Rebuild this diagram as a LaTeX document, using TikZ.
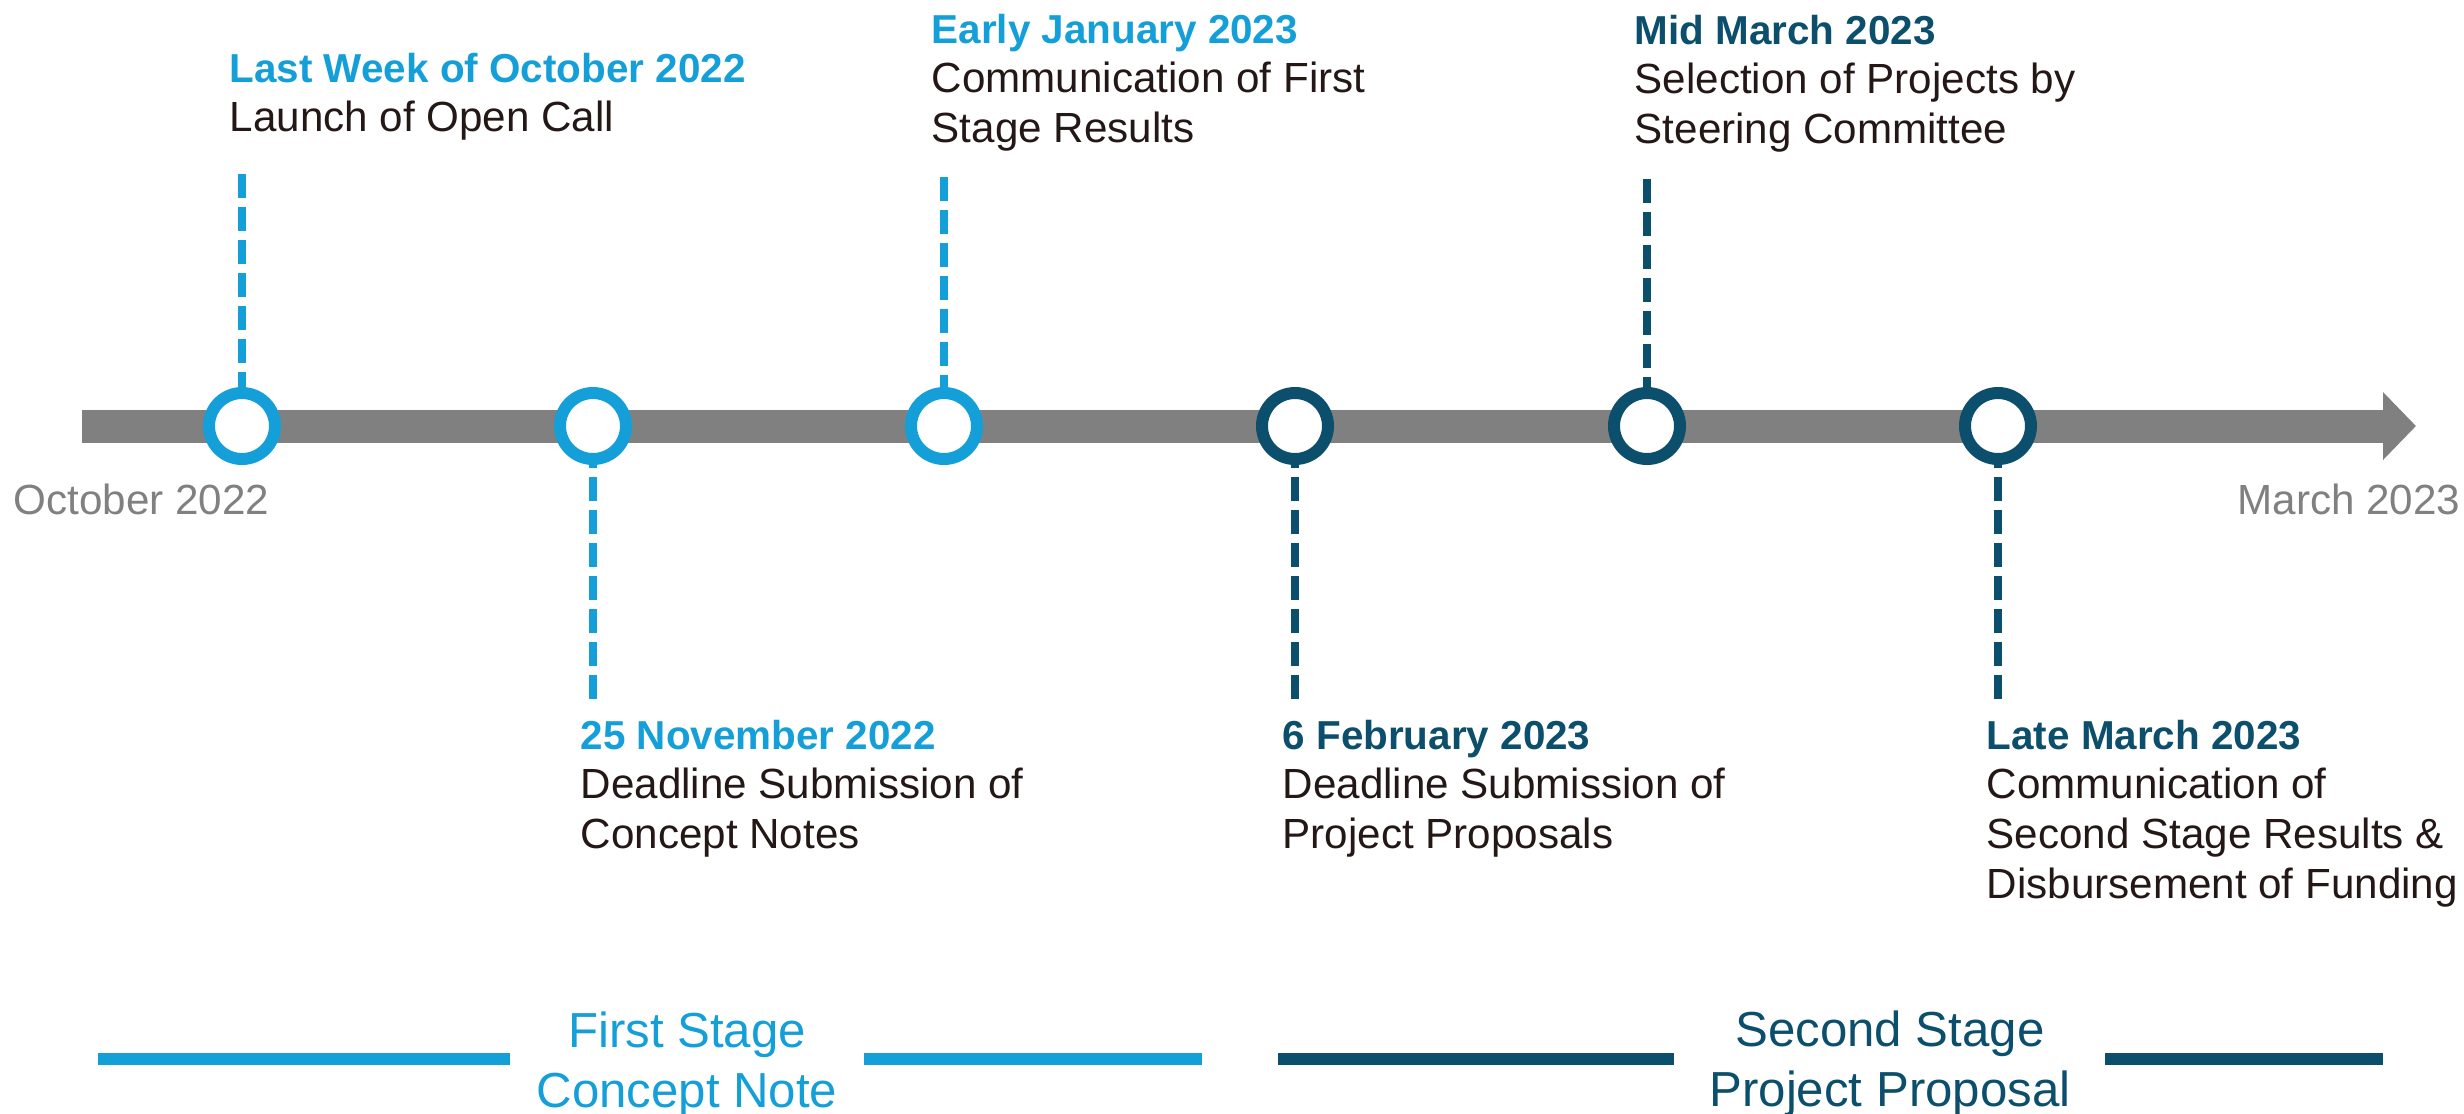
\documentclass[tikz,border=0pt]{standalone}
\usepackage{fontspec}
\setmainfont{Liberation Sans}
\usetikzlibrary{arrows.meta,positioning}
\definecolor{stageone}{HTML}{149FD9}
\definecolor{stagetwo}{HTML}{0B4F6C}
\definecolor{axisgray}{HTML}{808080}
\definecolor{bodyblack}{HTML}{231815}

\begin{document}
\begin{tikzpicture}[
            font=\fontsize{12}{14.2}\selectfont,
            % Stili
            timeline/.style={draw=axisgray, line width=3.3mm, -{Triangle[length=3.3mm,width=6.6mm]}},
            milestone/.style={circle, draw=#1, fill=white, line width=1.2mm, minimum size=6.6mm, inner sep=0pt},
            connector/.style={draw=#1, line width=0.8mm, dash pattern=on 2.4mm off 0.9mm},
            event/.style={anchor=north west, inner sep=0pt, align=left, text=bodyblack},
            axislabel/.style={inner sep=0pt, text=axisgray},
            stagebar/.style={draw=#1, line width=1.2mm},
            stagelabel/.style={anchor=north, inner sep=0pt, align=center, text=#1, font=\fontsize{14}{17}\selectfont}
        ]
        \useasboundingbox (0,0) rectangle (24.64,-11.13);

        % Asse temporale
        \draw [timeline] (0.82,-4.26) -- (24.16,-4.26);
        \node (start_lbl) [axislabel, anchor=base west] at (0.13,-5.14) {October 2022};
        \node (end_lbl) [axislabel, anchor=base east] at (24.61,-5.14) {March 2023};

        % Nodi
        \node (oct) [milestone=stageone] at (2.42,-4.26) {};
        \node (nov) [milestone=stageone] at (5.93,-4.26) {};
        \node (jan) [milestone=stageone] at (9.44,-4.26) {};
        \node (feb) [milestone=stagetwo] at (12.95,-4.26) {};
        \node (midmar) [milestone=stagetwo] at (16.47,-4.26) {};
        \node (latemar) [milestone=stagetwo] at (19.98,-4.26) {};

        % Estremi dei collegamenti
        \coordinate (oct_end) at (2.42,-1.74);
        \coordinate (nov_end) at (5.93,-6.99);
        \coordinate (jan_end) at (9.44,-1.77);
        \coordinate (feb_end) at (12.95,-6.99);
        \coordinate (midmar_end) at (16.47,-1.79);
        \coordinate (latemar_end) at (19.98,-6.99);

        % Collegamenti
        \draw [connector=stageone] (oct_end) -- (oct);
        \draw [connector=stageone] (nov_end) -- (nov);
        \draw [connector=stageone] (jan_end) -- (jan);
        \draw [connector=stagetwo] (feb_end) -- (feb);
        \draw [connector=stagetwo] (midmar_end) -- (midmar);
        \draw [connector=stagetwo] (latemar_end) -- (latemar);

        % Eventi
        \node (oct_txt) [event] at (2.29,-0.52) {{\fontsize{11.5}{14.2}\selectfont\bfseries\color{stageone}Last Week of October 2022}\\Launch of Open Call};
        \node (nov_txt) [event] at (5.80,-7.19) {{\fontsize{11.5}{14.2}\selectfont\bfseries\color{stageone}25 November 2022}\\Deadline Submission of\\Concept Notes};
        \node (jan_txt) [event] at (9.31,-0.13) {{\fontsize{11.5}{14.2}\selectfont\bfseries\color{stageone}Early January 2023}\\Communication of First\\Stage Results};
        \node (feb_txt) [event] at (12.82,-7.19) {{\fontsize{11.5}{14.2}\selectfont\bfseries\color{stagetwo}6 February 2023}\\Deadline Submission of\\Project Proposals};
        \node (midmar_txt) [event] at (16.34,-0.14) {{\fontsize{11.5}{14.2}\selectfont\bfseries\color{stagetwo}Mid March 2023}\\Selection of Projects by\\Steering Committee};
        \node (latemar_txt) [event] at (19.86,-7.19) {{\fontsize{11.5}{14.2}\selectfont\bfseries\color{stagetwo}Late March 2023}\\Communication of\\Second Stage Results \&\\Disbursement of Funding};

        % Fasi
        \node (stage_one) [stagelabel=stageone] at (6.87,-10.11) {First Stage\\Concept Note};
        \node (stage_two) [stagelabel=stagetwo] at (18.90,-10.10) {Second Stage\\Project Proposal};
        \draw [stagebar=stageone] (0.98,-10.59) -- (5.10,-10.59);
        \draw [stagebar=stageone] (8.64,-10.59) -- (12.02,-10.59);
        \draw [stagebar=stagetwo] (12.78,-10.59) -- (16.74,-10.59);
        \draw [stagebar=stagetwo] (21.05,-10.59) -- (23.83,-10.59);

    \end{tikzpicture}
\end{document}
